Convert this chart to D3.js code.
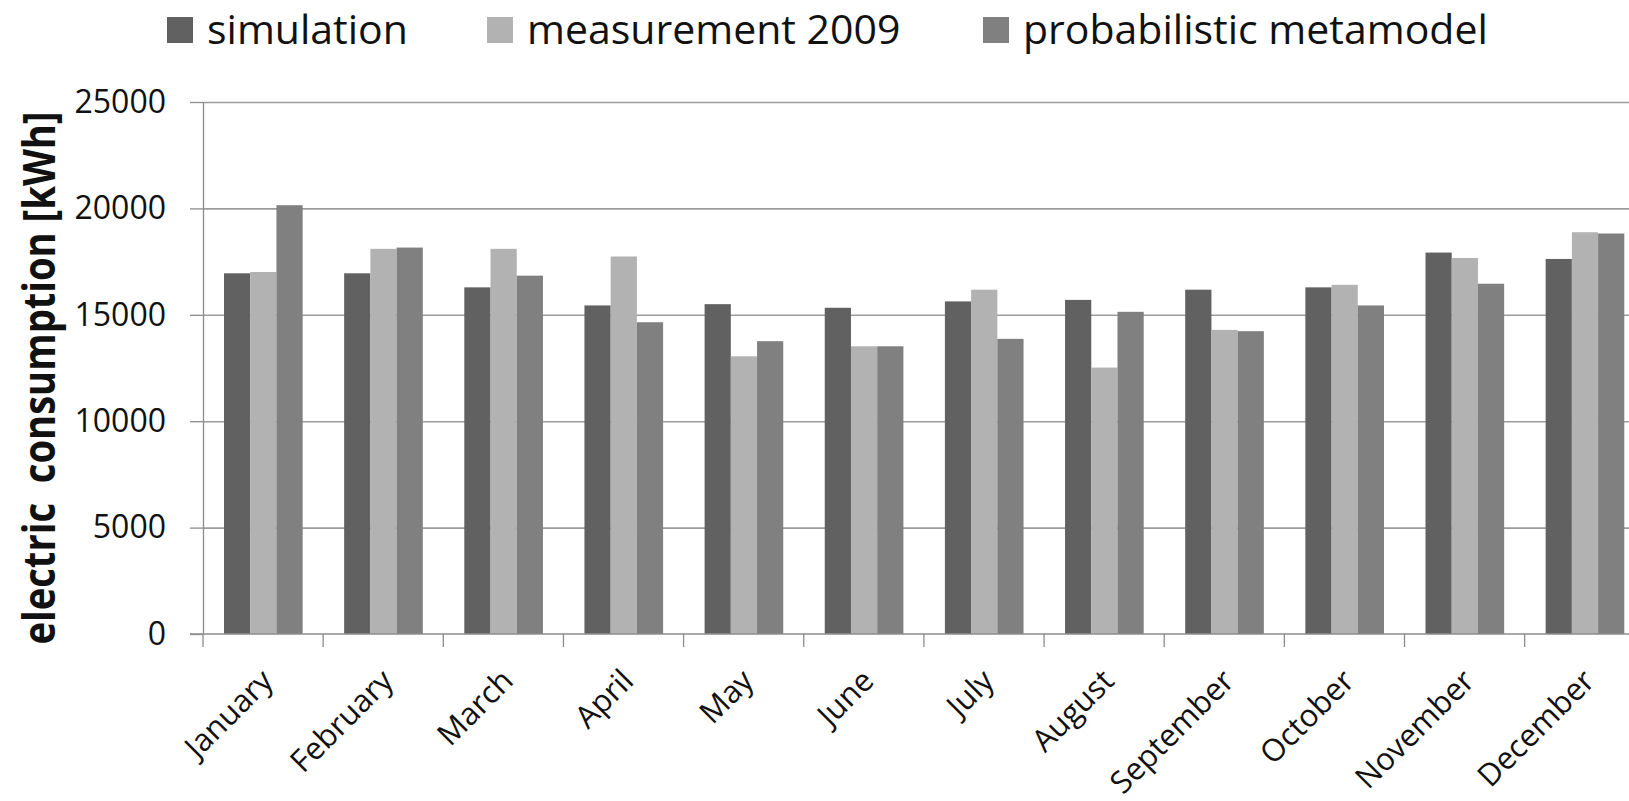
<!DOCTYPE html>
<html>
<head>
<meta charset="utf-8">
<script src="https://cdn.jsdelivr.net/npm/d3@7"></script>
<style>
  body { margin: 0; background: #fff; }
  svg { display: block; font-family: 'Open Sans', sans-serif; }
</style>
</head>
<body>
<div id="chart-area"></div>
<script>
// data
const months = ['January', 'February', 'March', 'April', 'May', 'June',
  'July', 'August', 'September', 'October', 'November', 'December'];
const seriesNames = ['simulation', 'measurement 2009', 'probabilistic metamodel'];
const simulation = [16950, 16950, 16290, 15440, 15500, 15330, 15630, 15700, 16180, 16290, 17925, 17625];
const measurement = [17010, 18100, 18100, 17740, 13050, 13520, 16180, 12520, 14290, 16410, 17670, 18880];
const metamodel = [20150, 18160, 16840, 14650, 13760, 13520, 13870, 15140, 14230, 15440, 16460, 18820];
const yTicks = [0, 5000, 10000, 15000, 20000, 25000];

const colors = ['#616161', '#b2b2b2', '#808080'];
const seriesValues = [simulation, measurement, metamodel];

const W = 1629, H = 801;
const plotLeft = 203, plotTop = 102, plotBottom = 634;
const band = 120.15;
const plotWidth = band * months.length;

const svg = d3.select('#chart-area')
  .append('svg')
  .attr('width', W)
  .attr('height', H);

const x0 = d3.scaleBand()
  .domain(months)
  .range([plotLeft, plotLeft + plotWidth])
  .padding(0);

const x1 = d3.scaleBand()
  .domain(seriesNames)
  .range([21, band - 20.5])
  .padding(0);

const y = d3.scaleLinear()
  .domain([0, 25000])
  .range([plotBottom, plotTop]);

// gridlines
const grid = svg.append('g')
  .attr('transform', 'translate(' + plotLeft + ', 0)')
  .call(d3.axisLeft(y).tickValues(yTicks.slice(1)).tickSize(-plotWidth).tickFormat(''));
grid.select('.domain').remove();
grid.selectAll('line').attr('stroke', '#9c9c9c').attr('stroke-width', 1.6);

// bars
const rows = months.map((m, i) => seriesNames.map((s, j) => ({ month: m, series: s, value: seriesValues[j][i], idx: j })));

svg.append('g')
  .selectAll('g')
  .data(rows)
  .enter()
  .append('g')
  .attr('transform', (d) => 'translate(' + x0(d[0].month) + ', 0)')
  .selectAll('rect')
  .data((d) => d)
  .enter()
  .append('rect')
  .attr('x', (d) => x1(d.series))
  .attr('y', (d) => y(d.value))
  .attr('width', x1.bandwidth())
  .attr('height', (d) => plotBottom - y(d.value))
  .attr('fill', (d) => colors[d.idx]);

// y axis
const yAxis = svg.append('g')
  .attr('transform', 'translate(' + plotLeft + ', 0)')
  .call(d3.axisLeft(y)
    .tickValues(yTicks)
    .tickFormat(d3.format('d'))
    .tickSize(13)
    .tickPadding(24)
    .tickSizeOuter(0));
yAxis.select('.domain').attr('stroke', '#8c8c8c').attr('stroke-width', 1.3);
yAxis.selectAll('.tick line').attr('stroke', '#8c8c8c').attr('stroke-width', 1.3);
yAxis.selectAll('.tick text')
  .attr('font-family', "'Open Sans', sans-serif")
  .attr('font-size', '32px')
  .attr('fill', '#111');

// x axis, ticks between the months
const xAxis = svg.append('g')
  .attr('transform', 'translate(0, ' + plotBottom + ')')
  .call(d3.axisBottom(x0).tickSize(13).tickSizeOuter(0));
xAxis.select('.domain')
  .attr('d', 'M' + (plotLeft - 13) + ',0H' + (plotLeft + plotWidth))
  .attr('stroke', '#8c8c8c').attr('stroke-width', 1.3);
xAxis.selectAll('.tick line')
  .attr('x1', -band / 2).attr('x2', -band / 2)
  .attr('stroke', '#8c8c8c').attr('stroke-width', 1.3);
xAxis.selectAll('.tick text')
  .attr('font-family', "'Open Sans', sans-serif")
  .attr('font-size', '31px')
  .attr('fill', '#111')
  .attr('text-anchor', 'end')
  .attr('x', 0).attr('y', 0).attr('dy', '0.35em')
  .attr('transform', 'translate(4, 41) rotate(-45)');

// y label
svg.append('text')
  .attr('transform', 'translate(55, 378) rotate(-90)')
  .attr('text-anchor', 'middle')
  .attr('font-size', '44px')
  .attr('font-weight', 'bold')
  .attr('fill', '#111')
  .attr('textLength', 533)
  .attr('lengthAdjust', 'spacingAndGlyphs')
  .style('white-space', 'pre')
  .text('electric  consumption [kWh]');

// legend
const legendX = [167, 487, 983];
const legend = svg.append('g')
  .selectAll('g')
  .data(seriesNames)
  .enter()
  .append('g')
  .attr('transform', (d, i) => 'translate(' + legendX[i] + ', 0)');

legend.append('rect')
  .attr('x', 0).attr('y', 17)
  .attr('width', 26).attr('height', 26)
  .attr('fill', (d, i) => colors[i]);

legend.append('text')
  .attr('x', 40).attr('y', 44)
  .attr('font-size', '41px')
  .attr('fill', '#111')
  .text((d) => d);
</script>
</body>
</html>
